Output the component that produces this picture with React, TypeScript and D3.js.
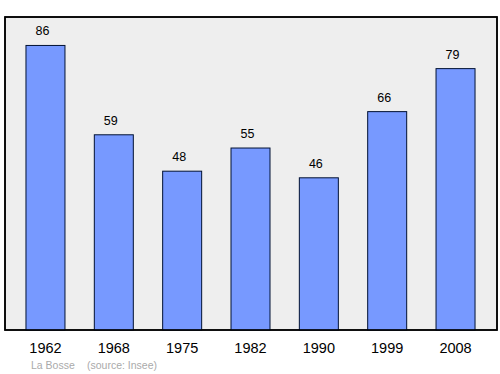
import React from "react";
import * as d3 from "d3";

const years = ["1962", "1968", "1975", "1982", "1990", "1999", "2008"];
const population = [86, 59, 48, 55, 46, 66, 79];
const title = "La Bosse";
const source = "(source: Insee)";

export default function App() {
  const W = 500, H = 374;
  const left = 5, right = 497, top = 17, bottom = 330;
  const x = d3.scaleBand<string>().domain(years).range([11.3, 489.7]);
  const y = d3.scaleLinear().domain([0, 86 * 1.1]).range([bottom, top]);
  const bw = 39;
  return (
    <svg width={W} height={H} style={{ position: "absolute", left: 0, top: 0 }} fontFamily="Liberation Sans, Arial, sans-serif">
      <rect x={left} y={top} width={right - left} height={bottom - top} fill="#eeeeee" stroke="#000" strokeWidth={1.5} />
      {years.map((yr, i) => {
        const cx = (x(yr) as number) + x.bandwidth() / 2;
        const v = population[i];
        return (
          <g key={yr}>
            <rect x={cx - bw / 2} y={y(v)} width={bw} height={bottom - y(v)} fill="#7799ff" stroke="#001133" strokeWidth={1} />
            <text x={cx - 3} y={y(v) - 10} textAnchor="middle" fontSize={12.5} fill="#000">{v}</text>
            <text x={cx} y={352.5} textAnchor="middle" fontSize={14.5} fill="#000">{yr}</text>
          </g>
        );
      })}
      <rect x={left} y={top} width={right - left} height={bottom - top} fill="none" stroke="#000" strokeWidth={1.5} />
      <text x={31} y={368.5} fontSize={10.5} fill="#aaaaaa">{title}</text>
      <text x={87} y={368.5} fontSize={10.5} fill="#aaaaaa">{source}</text>
    </svg>
  );
}
